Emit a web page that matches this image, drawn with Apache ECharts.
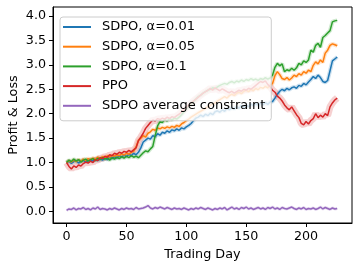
<!DOCTYPE html>
<html><head><meta charset="utf-8">
<script src="https://cdn.jsdelivr.net/npm/echarts@6/dist/echarts.min.js"></script>
<style>html,body{margin:0;padding:0;background:#fff}#c{width:359px;height:268px}</style>
</head><body><div id="c"></div>
<script>
const seriesNames = ['SDPO, α=0.01', 'SDPO, α=0.05', 'SDPO, α=0.1', 'PPO', 'SDPO average constraint'];
const xLabel = 'Trading Day';
const yLabel = 'Profit & Loss';
const xTicks = [0, 50, 100, 150, 200];
const yTicks = [0.0, 0.5, 1.0, 1.5, 2.0, 2.5, 3.0, 3.5, 4.0];
const dayStep = 2; // one sample every two trading days

const sdpo001 = [
1.00,1.03,0.98,1.02,1.04,0.99,1.03,1.05,1.01,1.04,
1.06,1.03,1.07,1.04,1.08,1.05,1.09,1.06,1.11,1.08,
1.12,1.09,1.14,1.11,1.15,1.12,1.17,1.14,1.19,1.16,
1.21,1.30,1.42,1.46,1.50,1.48,1.55,1.53,1.59,1.56,
1.62,1.60,1.65,1.62,1.67,1.65,1.69,1.66,1.71,1.69,
1.73,1.76,1.80,1.86,1.91,1.93,1.97,1.94,1.99,1.96,
2.01,1.98,2.04,2.06,2.03,2.08,2.05,2.11,2.08,2.13,
2.09,2.15,2.11,2.17,2.13,2.18,2.14,2.20,2.16,2.21,
2.17,2.22,2.18,2.23,2.19,2.24,2.25,2.32,2.40,2.46,
2.50,2.47,2.52,2.49,2.53,2.55,2.52,2.58,2.56,2.62,
2.59,2.65,2.70,2.76,2.72,2.79,2.74,2.66,2.64,2.68,
2.88,3.08,3.12,3.16];

const sdpo005 = [
1.00,1.04,1.01,1.05,1.02,1.06,1.03,1.07,1.04,1.08,
1.06,1.09,1.07,1.11,1.08,1.12,1.10,1.14,1.11,1.15,
1.13,1.16,1.14,1.18,1.15,1.19,1.17,1.21,1.23,1.32,
1.45,1.50,1.55,1.52,1.60,1.63,1.68,1.66,1.71,1.69,
1.72,1.70,1.73,1.71,1.74,1.72,1.76,1.74,1.79,1.82,
1.86,1.89,1.93,1.96,1.99,2.02,2.05,2.08,2.11,2.14,
2.17,2.20,2.22,2.26,2.29,2.32,2.35,2.32,2.37,2.40,
2.37,2.42,2.44,2.41,2.46,2.48,2.45,2.50,2.47,2.52,
2.49,2.54,2.52,2.56,2.53,2.58,2.62,2.78,2.86,2.80,
2.72,2.70,2.74,2.69,2.73,2.79,2.76,2.82,2.79,2.86,
2.83,2.89,2.86,2.99,3.06,3.02,3.10,3.05,3.24,3.30,
3.40,3.43,3.41,3.39];

const sdpo01 = [
1.00,1.05,1.02,1.07,1.03,1.06,1.01,1.05,1.07,1.03,
1.06,1.08,1.04,1.09,1.06,1.10,1.07,1.09,1.05,1.10,
1.07,1.11,1.08,1.12,1.09,1.13,1.10,1.14,1.11,1.13,
1.10,1.15,1.20,1.24,1.22,1.28,1.33,1.55,1.75,1.84,
1.82,1.88,1.85,1.90,1.87,1.91,1.89,1.93,1.98,2.04,
2.10,2.15,2.20,2.25,2.30,2.35,2.38,2.42,2.45,2.48,
2.50,2.53,2.51,2.55,2.58,2.60,2.62,2.60,2.64,2.66,
2.63,2.67,2.65,2.69,2.66,2.70,2.68,2.72,2.69,2.71,
2.68,2.72,2.70,2.74,2.71,2.73,2.79,2.95,3.03,2.98,
3.02,2.86,2.90,2.88,2.93,2.89,2.94,3.03,3.00,3.08,
3.05,3.10,3.30,3.26,3.40,3.44,3.36,3.56,3.60,3.65,
3.70,3.88,3.90,3.91];

const ppo = [
1.00,0.92,0.87,0.93,0.90,0.95,0.93,0.98,1.01,0.99,
1.03,1.00,1.06,1.04,1.10,1.08,1.13,1.11,1.16,1.14,
1.19,1.17,1.21,1.19,1.23,1.21,1.25,1.22,1.26,1.30,
1.45,1.52,1.60,1.70,1.76,1.82,1.87,1.85,1.90,1.88,
1.91,1.89,1.93,1.90,1.94,1.92,1.96,1.99,2.04,2.08,
2.12,2.18,2.22,2.26,2.30,2.34,2.38,2.42,2.45,2.48,
2.52,2.48,2.53,2.50,2.47,2.51,2.48,2.45,2.43,2.46,
2.42,2.45,2.48,2.46,2.50,2.48,2.52,2.50,2.54,2.58,
2.62,2.66,2.64,2.67,2.60,2.55,2.48,2.44,2.36,2.32,
2.26,2.18,2.12,2.08,2.14,2.06,1.98,1.92,1.80,1.77,
1.84,1.79,1.86,1.90,2.00,1.92,1.97,1.93,2.00,1.96,
2.14,2.22,2.28,2.32];

const constraintAvg = [
0.02,0.05,0.04,0.07,0.03,0.06,0.05,0.08,0.04,0.06,
0.03,0.07,0.05,0.09,0.04,0.06,0.05,0.03,0.06,0.04,
0.07,0.05,0.03,0.06,0.04,0.07,0.05,0.06,0.04,0.08,
0.05,0.06,0.07,0.09,0.12,0.07,0.05,0.08,0.06,0.09,
0.07,0.05,0.08,0.06,0.04,0.07,0.05,0.06,0.04,0.07,
0.05,0.03,0.06,0.04,0.07,0.05,0.08,0.06,0.04,0.07,
0.05,0.03,0.06,0.04,0.07,0.05,0.08,0.03,0.06,0.09,
0.05,0.07,0.04,0.08,0.06,0.09,0.05,0.07,0.04,0.06,
0.08,0.05,0.07,0.04,0.08,0.06,0.09,0.05,0.07,0.04,
0.08,0.06,0.05,0.07,0.09,0.06,0.04,0.07,0.05,0.08,
0.04,0.06,0.05,0.07,0.04,0.06,0.09,0.05,0.08,0.06,
0.04,0.07,0.05,0.06];

const allValues = [sdpo001, sdpo005, sdpo01, ppo, constraintAvg];
const colors = ['#1f77b4', '#ff7f0e', '#2ca02c', '#d62728', '#9467bd'];
const bandWidths = [4, 4, 4, 7, 3];

const FONT = 'DejaVu Sans';
const series = [];
allValues.forEach((vals, k) => {
  const data = vals.map((v, i) => [i * dayStep, v]);
  series.push({
    type: 'line', data, symbol: 'none', silent: true, z: 1,
    lineStyle: { width: bandWidths[k], color: colors[k], opacity: 0.22 }
  });
});
allValues.forEach((vals, k) => {
  const data = vals.map((v, i) => [i * dayStep, v]);
  series.push({
    name: seriesNames[k], type: 'line', data, symbol: 'none', z: 2,
    lineStyle: { width: 1.5, color: colors[k] }, itemStyle: { color: colors[k] }
  });
});

const chart = echarts.init(document.getElementById('c'), null, { renderer: 'canvas' });
chart.setOption({
  animation: false,
  grid: { left: 53, right: 7, top: 7, bottom: 45, containLabel: false, outerBoundsMode: 'none',
    show: true, borderColor: '#000', borderWidth: 1 },
  legend: {
    data: seriesNames, orient: 'vertical', left: 60, top: 17,
    padding: [3, 6, 8, 3], itemGap: 5.7, itemWidth: 28, itemHeight: 2, icon: 'rect',
    backgroundColor: 'rgba(255,255,255,0.8)', borderColor: '#cccccc', borderWidth: 1, borderRadius: 3,
    textStyle: { fontFamily: FONT, fontSize: 13, color: '#000', lineHeight: 14, padding: [0, 0, 0, 6] }
  },
  xAxis: {
    type: 'value', min: -11.35, max: 238.35,
    name: xLabel, nameLocation: 'middle', nameGap: 25, nameMoveOverlap: false,
    nameTextStyle: { fontFamily: FONT, fontSize: 12.8, color: '#000' },
    axisLine: { show: true, onZero: false, lineStyle: { color: '#000', width: 1 } },
    axisTick: { show: true, length: 4, customValues: xTicks, lineStyle: { color: '#000' } },
    axisLabel: { customValues: xTicks, margin: 7, fontFamily: FONT, fontSize: 12.7, color: '#000' },
    splitLine: { show: false }
  },
  yAxis: {
    type: 'value', min: -0.237, max: 4.184,
    name: yLabel, nameLocation: 'middle', nameGap: 33, nameMoveOverlap: false,
    nameTextStyle: { fontFamily: FONT, fontSize: 12.8, color: '#000' },
    axisLine: { show: true, onZero: false, lineStyle: { color: '#000', width: 1 } },
    axisTick: { show: true, length: 4, customValues: yTicks, lineStyle: { color: '#000' } },
    axisLabel: { customValues: yTicks, margin: 7, fontFamily: FONT, fontSize: 12.7, color: '#000',
      formatter: v => v.toFixed(1) },
    splitLine: { show: false }
  },
  series
});
</script>
</body></html>
